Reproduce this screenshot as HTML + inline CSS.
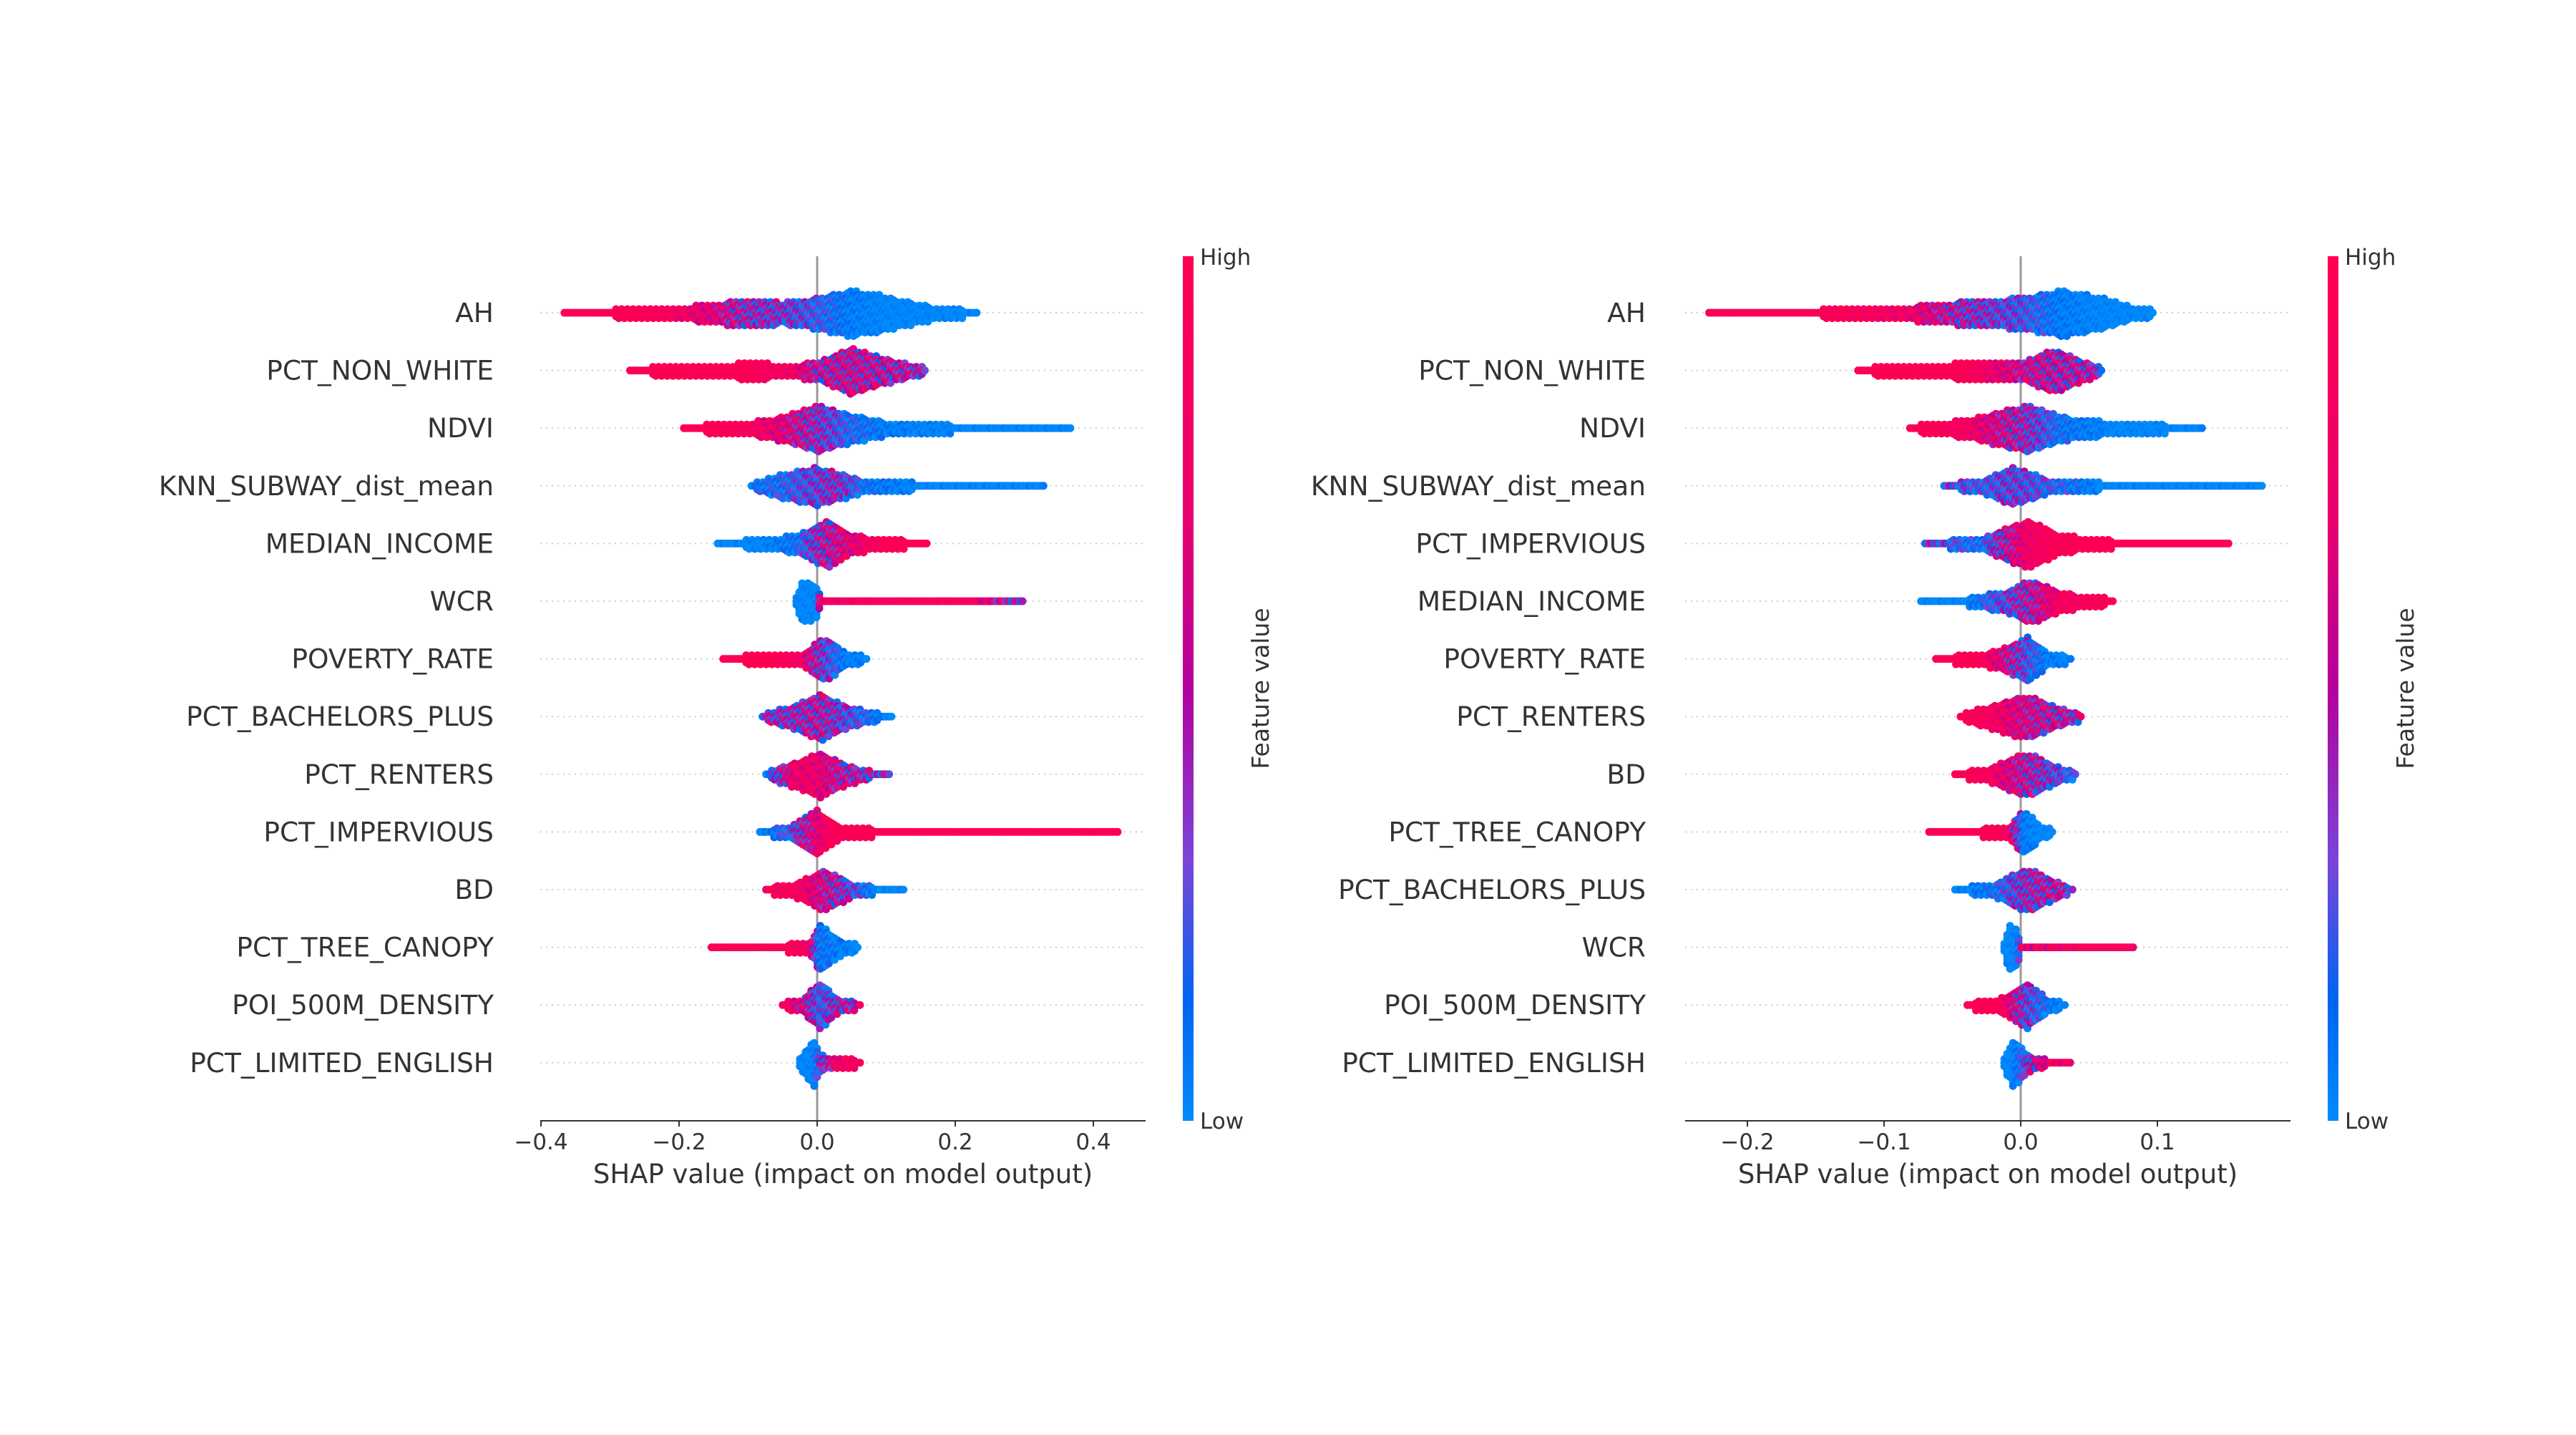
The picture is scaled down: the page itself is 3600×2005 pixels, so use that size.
<!DOCTYPE html>
<html><head><meta charset="utf-8"><style>
html,body{margin:0;padding:0;background:#fff;}
svg text{font-family:"DejaVu Sans","Liberation Sans",sans-serif;fill:#333;}
</style></head><body>
<svg id="chart" width="3600" height="2000" viewBox="0 0 3600 2000" xmlns="http://www.w3.org/2000/svg">
<defs>
<linearGradient id="cbar" x1="0" y1="0" x2="0" y2="1">
<stop offset="0" stop-color="#ff0051"/>
<stop offset="0.3" stop-color="#e8006e"/>
<stop offset="0.5" stop-color="#b4009e"/>
<stop offset="0.7" stop-color="#7a45d8"/>
<stop offset="0.86" stop-color="#0064f2"/>
<stop offset="1" stop-color="#008bfb"/>
</linearGradient>
</defs>
</svg>
<script>
// ---- Left panel data ----
const leftFeatures = ["AH","PCT_NON_WHITE","NDVI","KNN_SUBWAY_dist_mean","MEDIAN_INCOME","WCR","POVERTY_RATE","PCT_BACHELORS_PLUS","PCT_RENTERS","PCT_IMPERVIOUS","BD","PCT_TREE_CANOPY","POI_500M_DENSITY","PCT_LIMITED_ENGLISH"];
const leftX = [
[-0.366,-0.25,-0.15,-0.1,-0.05,0,0.05,0.1,0.15,0.2,0.232],
[-0.271,-0.2,-0.1,-0.03,0,0.05,0.1,0.159],
[-0.193,-0.1,-0.05,0,0.05,0.1,0.2,0.3,0.367],
[-0.095,-0.05,0,0.03,0.07,0.15,0.25,0.328],
[-0.144,-0.08,-0.03,0.015,0.05,0.1,0.132,0.162],
[-0.03,-0.02,0,0.005,0.1,0.22,0.298],
[-0.136,-0.06,-0.02,0.012,0.04,0.075],
[-0.079,-0.04,0.005,0.04,0.08,0.108],
[-0.074,-0.03,0.005,0.04,0.08,0.105],
[-0.083,-0.04,0,0.03,0.1,0.436],
[-0.074,-0.03,0.01,0.05,0.09,0.128],
[-0.153,-0.05,-0.01,0.003,0.03,0.061],
[-0.05,-0.02,0.005,0.03,0.065],
[-0.025,-0.005,0.005,0.03,0.065]];
const leftSpread = [
[3,5,10,17,12,18,27,20,10,5,3],
[3,6,9,8,10,27,14,3],
[3,7,14,27,16,8,4,3,3],
[3,14,22,16,6,4,3,3],
[3,5,10,27,10,6,4,3],
[8,25,20,3,3,3,3],
[3,6,8,26,8,3],
[3,12,27,14,5,3],
[3,15,26,12,4,3],
[3,6,26,8,3,3],
[3,8,24,8,3,3],
[3,4,6,28,10,3],
[3,8,28,8,3],
[6,28,10,5,4]];
const leftColor = [
[1,0.95,0.7,0.4,0.35,0.2,0.05,0,0,0,0],
[1,1,0.95,0.8,0.5,0.55,0.5,0.45],
[1,0.9,0.7,0.4,0.15,0.05,0,0,0],
[0.1,0.15,0.3,0.4,0.1,0,0,0],
[0,0,0.1,0.5,0.7,0.95,1,1],
[0,0,0,0.8,0.9,0.9,0.3],
[1,1,0.8,0.3,0.05,0],
[0.4,0.4,0.5,0.3,0.1,0],
[0.05,0.8,0.75,0.5,0.4,0.4],
[0,0.2,0.7,0.95,1,1],
[0.9,0.9,0.6,0.3,0,0],
[1,1,0.8,0.1,0.05,0],
[0.9,0.6,0.2,0.4,0.5],
[0,0,0.3,0.8,0.9]];
const leftTicks = [-0.4,-0.2,0.0,0.2,0.4];

// ---- Right panel data ----
const rightFeatures = ["AH","PCT_NON_WHITE","NDVI","KNN_SUBWAY_dist_mean","PCT_IMPERVIOUS","MEDIAN_INCOME","POVERTY_RATE","PCT_RENTERS","BD","PCT_TREE_CANOPY","PCT_BACHELORS_PLUS","WCR","POI_500M_DENSITY","PCT_LIMITED_ENGLISH"];
const rightX = [
[-0.228,-0.15,-0.08,-0.04,0,0.03,0.06,0.08,0.097],
[-0.119,-0.08,-0.04,0,0.025,0.045,0.06],
[-0.081,-0.04,0.005,0.03,0.07,0.134],
[-0.056,-0.03,-0.005,0.02,0.06,0.178],
[-0.07,-0.03,0.005,0.03,0.07,0.153],
[-0.073,-0.04,-0.01,0.008,0.03,0.069],
[-0.062,-0.03,-0.01,0.005,0.02,0.038],
[-0.044,-0.02,0.005,0.025,0.045],
[-0.048,-0.025,0.005,0.025,0.042],
[-0.067,-0.03,-0.01,0.003,0.015,0.025],
[-0.048,-0.02,0.005,0.025,0.038],
[-0.012,-0.008,-0.002,0.0,0.05,0.083],
[-0.039,-0.015,0.005,0.02,0.033],
[-0.012,-0.005,0.005,0.02,0.038]];
const rightSpread = [
[3,4,8,14,18,27,18,8,4],
[3,7,9,10,25,12,3],
[3,10,27,14,6,3],
[3,6,22,8,4,3],
[3,6,28,10,4,3],
[3,4,12,26,10,3],
[3,6,14,26,8,3],
[3,14,26,12,3],
[3,6,26,10,3],
[3,4,6,26,8,3],
[3,6,26,10,3],
[6,28,20,3,3,4],
[3,8,26,8,3],
[8,28,10,4,3]];
const rightColor = [
[1,0.95,0.8,0.4,0.25,0.05,0,0,0],
[1,1,0.95,0.6,0.5,0.5,0.4],
[1,0.85,0.4,0.1,0,0],
[0.3,0.2,0.3,0.2,0,0],
[0.35,0.1,0.8,0.95,1,1],
[0,0,0.3,0.5,0.85,1],
[1,0.95,0.6,0.25,0.05,0],
[1,0.85,0.6,0.5,0.4],
[1,0.9,0.5,0.3,0.1],
[1,1,0.9,0.05,0,0],
[0,0.1,0.4,0.5,0.4],
[0,0,0,0.7,0.9,0.9],
[1,0.95,0.3,0.1,0],
[0,0,0.3,0.8,0.8]];
const rightTicks = [-0.2,-0.1,0.0,0.1];

const NS = "http://www.w3.org/2000/svg";
const svg = document.getElementById('chart');
function mk(tag, attrs, parent){const e=document.createElementNS(NS,tag);for(const k in attrs)e.setAttribute(k,attrs[k]);(parent||svg).appendChild(e);return e;}

const stops=[[0,[0,139,251]],[0.15,[0,100,242]],[0.3,[122,69,216]],[0.5,[180,0,158]],[0.7,[232,0,110]],[1,[255,0,81]]];
function cmap(t){t=Math.max(0,Math.min(1,t));for(let i=1;i<stops.length;i++){if(t<=stops[i][0]){const a=stops[i-1],b=stops[i];const f=(t-a[0])/(b[0]-a[0]);const c=a[1].map((v,k)=>Math.round(v+(b[1][k]-v)*f));return `rgb(${c[0]},${c[1]},${c[2]})`;}}return 'rgb(255,0,81)';}
function interp(xs,ys,x){if(x<=xs[0])return ys[0];for(let i=1;i<xs.length;i++){if(x<=xs[i]){const f=(x-xs[i-1])/(xs[i]-xs[i-1]);return ys[i-1]+(ys[i]-ys[i-1])*f;}}return ys[ys.length-1];}

const TOP=358, BOTTOM=1566, ROW0=437, ROWSTEP=80.6, HSCALE=1.17;

function panel(cfg){
  const g = mk('g',{});
  
  
  const sx = v => cfg.zeroX + v*cfg.ppu;
  cfg.features.forEach((f,i)=>{
    const y = ROW0 + i*ROWSTEP;
    const gl = mk('line',{x1:cfg.left,x2:cfg.right,y1:y,y2:y,stroke:'#ccc','stroke-width':2,'stroke-dasharray':'2,6'},g);
    
    
    const t = mk('text',{x:cfg.labelRight,y:y+13,'text-anchor':'end','font-size':37.5},g);
    t.textContent=f;
    
    
  });
  const zl = mk('line',{x1:sx(0),x2:sx(0),y1:TOP,y2:BOTTOM,stroke:'#999','stroke-width':3},g);
  
  
  cfg.features.forEach((f,i)=>{
    const y0 = ROW0 + i*ROWSTEP;
    const xs = cfg.xs[i], hs = cfg.hs[i], cs = cfg.cs[i];
    const sg = mk('g',{},g);
    
    
    const px0 = sx(xs[0]), px1 = sx(xs[xs.length-1]);
    let col=0;
    for(let px=px0; px<=px1+0.1; px+=4, col++){
      const v=(px-cfg.zeroX)/cfg.ppu;
      const h=interp(xs,hs,v)*HSCALE, c=interp(xs,cs,v);
      const n=Math.max(0,Math.floor(h/5));
      for(let j=-n;j<=n;j++){
        const mixOff = ((col*7+j*3)%5-2)*0.18*(1-Math.abs(c-0.5)*1.6);
        mk('circle',{cx:px.toFixed(1),cy:(y0+j*5+((col%2)?2.5:0)*(n>0?1:0)).toFixed(1),r:5.5,fill:cmap(c+mixOff)},sg);
      }
    }
  });
  const ax = mk('line',{x1:cfg.left,x2:cfg.right,y1:BOTTOM,y2:BOTTOM,stroke:'#333','stroke-width':2},g);
  
  
  cfg.ticks.forEach(tv=>{
    const x=sx(tv);
    mk('line',{x1:x,x2:x,y1:BOTTOM,y2:BOTTOM+8,stroke:'#333','stroke-width':2},g);
    const t=mk('text',{x:x,y:BOTTOM+40,'text-anchor':'middle','font-size':31},g);
    t.textContent=(tv<0?'\u2212':'')+Math.abs(tv).toFixed(1);
    
    
  });
  const at=mk('text',{x:(cfg.left+cfg.right)/2,y:BOTTOM+87,'text-anchor':'middle','font-size':37},g);
  at.textContent='SHAP value (impact on model output)';
  
  
  const cb=mk('rect',{x:cfg.cbX,y:TOP,width:15,height:BOTTOM-TOP,fill:'url(#cbar)'},g);
  
  
  const hi=mk('text',{x:cfg.cbX+24,y:TOP+12,'font-size':31},g);hi.textContent='High';
  
  
  const lo=mk('text',{x:cfg.cbX+24,y:BOTTOM+11,'font-size':31},g);lo.textContent='Low';
  
  
  const fv=mk('text',{x:0,y:0,'text-anchor':'middle','font-size':33,transform:`translate(${cfg.cbX+120},${(TOP+BOTTOM)/2}) rotate(-90)`},g);
  fv.textContent='Feature value';
  
  
}

panel({name:'left-shap-panel',features:leftFeatures,xs:leftX,hs:leftSpread,cs:leftColor,ticks:leftTicks,
  zeroX:1142,ppu:965,left:755,right:1601,labelRight:690,cbX:1653});
panel({name:'right-shap-panel',features:rightFeatures,xs:rightX,hs:rightSpread,cs:rightColor,ticks:rightTicks,
  zeroX:2824,ppu:1910,left:2355,right:3201,labelRight:2300,cbX:3253});
</script>
</body></html>
